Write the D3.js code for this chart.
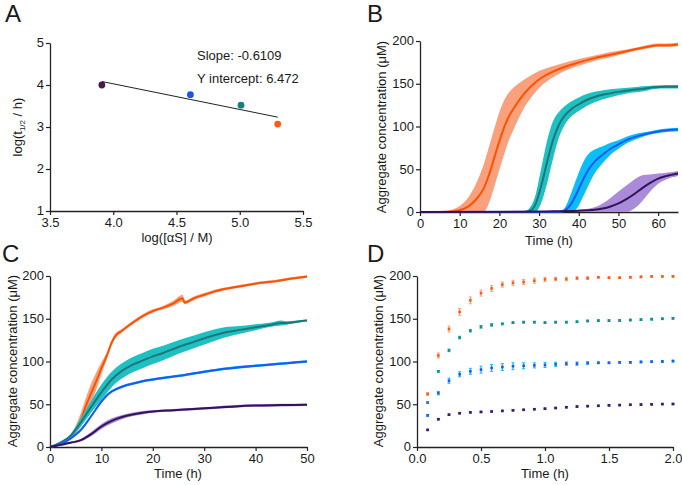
<!DOCTYPE html>
<html><head><meta charset="utf-8">
<script src="https://cdn.jsdelivr.net/npm/d3@7"></script>
<style>
body{margin:0;background:#fff}
svg{display:block}
text{font-family:"Liberation Sans",Arial,Helvetica,sans-serif;fill:#1a1a1a}
</style>
</head><body>
<svg id="chart" width="682" height="485"></svg>
<script>
// ---------- Panel A ----------
const aLogConc = [3.91, 4.61, 5.01, 5.30];
const aLogHalf = [4.00, 3.77, 3.52, 3.07];
const aColors = ["#4a1a4e", "#1657f0", "#177e80", "#ff5a14"];
const fitSlope = -0.6109;
const fitIntercept = 6.472;
const aXTicks = [3.5, 4.0, 4.5, 5.0, 5.5];
const aYTicks = [1, 2, 3, 4, 5];

// ---------- series styling ----------
const lineColors = ["#ff5200", "#1f7679", "#1c58f5", "#35115a"];
const bandColors = ["#f9a07c", "#1ec0c2", "#0cbef8", "#a98bd9"];

// ---------- Panel B (unseeded) ----------
const bOrangeT = [0, 5, 8, 10, 12, 14, 16, 17.5, 19, 20.5, 22, 24, 26, 28, 30, 33, 36, 40, 44, 48, 52, 56, 60, 62, 65];
const bOrangeM = [0, 0, 0.5, 2, 6, 14, 27, 45, 68, 90, 108, 124, 137, 147, 155, 163, 169, 175, 180, 184, 188, 192, 195, 195, 196];
const bOrangeS = [0, 0, 2, 5, 10, 18, 28, 33, 34, 33, 29, 23, 17, 13, 10, 7, 5, 4, 3, 3, 2, 2, 2, 2, 2];
const bTealT = [0, 26, 27.5, 29, 30.5, 32, 33.5, 35, 36.5, 38, 40, 42, 44, 47, 50, 53, 56, 59, 62, 65];
const bTealM = [0, 0, 1, 8, 30, 58, 84, 102, 113, 120, 126, 131, 134.5, 138, 140.5, 142.5, 144, 146, 146.5, 146.5];
const bTealS = [0, 0, 3, 10, 20, 25, 22, 15, 11, 9, 8, 7, 6, 5, 4, 3, 3, 2, 2, 2];
const bBlueT = [0, 35, 36.5, 38, 39.5, 41, 42.5, 44, 46, 48, 50, 52, 55, 58, 61, 65];
const bBlueM = [0, 0, 2, 9, 22, 37, 50, 59, 67, 74, 79, 84, 89, 92.5, 95, 96.5];
const bBlueS = [0, 0, 3, 12, 18, 20, 18, 14, 10, 7, 5, 4, 3, 2, 2, 2];
const bPurpleT = [0, 30, 35, 40, 44, 46, 48, 50, 52, 54, 56, 58, 60, 62, 65];
const bPurpleM = [0, 0.5, 1, 1.5, 2.5, 4, 6.5, 10, 15, 21, 28, 34, 39, 42, 45];
const bPurpleS = [0, 0, 0.5, 1, 3, 6, 10, 14, 16, 17, 15, 10, 6, 4, 3];
const bXTicks = [0, 10, 20, 30, 40, 50, 60];
const yTicks = [0, 50, 100, 150, 200];

// ---------- Panel C (seeded) ----------
const cOrangeT = [0, 2, 4, 5, 6, 7, 8, 9, 10, 11, 12, 12.6, 14, 16, 18, 20, 22, 24, 25.8, 26.2, 28, 30, 32, 35, 38, 41, 44, 47, 50];
const cOrangeM = [0, 4, 12, 20, 32, 48, 63, 77, 92, 106, 122, 129, 136, 145, 153, 159, 163, 168, 174, 169, 174, 178, 182, 186, 189, 192, 194, 197, 199.5];
const cOrangeS = [0, 1, 3, 5, 8, 10, 11, 10, 7, 4, 3, 3, 2, 2, 2, 2, 2, 3, 4, 2, 2, 2, 2, 1.5, 1.5, 1.5, 1.5, 1.5, 1.5];
const cTealT = [0, 2, 4, 6, 8, 10, 12, 14, 16, 18, 20, 22, 25, 28, 31, 34, 37, 40, 43, 45, 46, 48, 50];
const cTealM = [0, 5, 13, 29, 47, 64, 79, 89, 96, 101, 106, 110, 117, 123, 129, 134, 137, 140, 143, 145, 145, 146.5, 148];
const cTealS = [0, 1, 2, 5, 7, 9, 9, 9, 9, 9, 9, 8.5, 8, 7.5, 7, 6, 4.5, 3.5, 2.5, 3, 2, 1.5, 1];
const cBlueT = [0, 2, 4, 6, 8, 10, 11, 12, 13, 14, 16, 18, 20, 23, 26, 30, 34, 38, 42, 46, 50];
const cBlueM = [0, 3, 10, 20, 36, 53, 60, 65, 68, 70.5, 74, 77, 79, 81.5, 84, 88, 91.5, 94, 96, 98, 100];
const cBlueS = [0, 1, 1.5, 1.5, 1.5, 1.5, 1.5, 1.5, 1.5, 1.5, 1.5, 1.5, 1.5, 1.5, 1.5, 1.5, 1.5, 1.5, 1.5, 1.5, 1.5];
const cPurpleT = [0, 2, 4, 6, 8, 10, 12, 14, 16, 18, 20, 24, 28, 32, 36, 40, 45, 50];
const cPurpleM = [0, 2.5, 5, 8, 15, 24, 30.5, 35, 38, 40, 41.5, 43, 44.5, 46, 47.5, 48.5, 49, 49.5];
const cPurpleS = [0, 0.5, 1, 1.5, 2.5, 3, 3, 2.5, 2, 2, 1.5, 1.5, 1.5, 1.5, 1.5, 1.5, 1.5, 1.5];
const cXTicks = [0, 10, 20, 30, 40, 50];

// ---------- Panel D (early times) ----------
const dTime = [0.083, 0.167, 0.25, 0.333, 0.417, 0.5, 0.583, 0.667, 0.75, 0.833, 0.917, 1.0, 1.083, 1.167, 1.25, 1.333, 1.417, 1.5, 1.583, 1.667, 1.75, 1.833, 1.917, 2.0];
const dOrange = [62, 107, 138, 158, 171.5, 180, 185.5, 190, 192, 193, 194.5, 196, 196.5, 196.5, 197.5, 197.5, 198.5, 198, 198, 198.5, 199, 199.5, 199.5, 199.5];
const dOrangeErr = [1.5, 3, 3.5, 4, 4, 3.5, 3.5, 3, 3, 3, 3, 2.5, 2, 2, 1.5, 1.5, 1, 1, 1, 1, 1, 1, 1, 1];
const dTeal = [52, 88.5, 113, 128, 136, 140.5, 142.8, 144, 145.4, 146, 146, 145.4, 146, 146, 146.5, 147.4, 147.8, 147.8, 148, 148.5, 149, 149.5, 150, 150.5];
const dTealErr = [1, 1, 1.5, 1.5, 1.5, 1.5, 1.5, 1, 1, 1, 1, 1, 1, 1, 1, 1, 1, 1, 1, 1, 1, 1, 1, 1];
const dBlue = [37, 63, 77.5, 85, 88.5, 90.5, 92.5, 93.5, 94.5, 95, 95.5, 96, 96.7, 97.5, 97.5, 98.2, 98.5, 98.5, 99, 99, 99.5, 99.8, 100, 100.5];
const dBlueErr = [1, 2, 3, 3, 3.5, 4, 4, 4, 4, 3.5, 3, 3, 2.5, 2, 2, 1.5, 1, 1, 1, 1, 1, 1, 1, 1];
const dPurple = [20, 32.5, 37.8, 39.5, 40.5, 41, 41.5, 42.2, 42.9, 43.5, 44.2, 44.8, 45.6, 46.5, 47.3, 47.8, 48.2, 48.7, 49, 49.4, 49.6, 49.9, 50.2, 50.3];
const dPurpleErr = [0.8, 0.8, 0.8, 0.8, 0.8, 0.8, 0.8, 0.8, 0.8, 0.8, 0.8, 0.8, 0.8, 0.8, 0.8, 0.8, 0.8, 0.8, 0.8, 0.8, 0.8, 0.8, 0.8, 0.8];
const dXTicks = [0, 0.5, 1.0, 1.5, 2.0];
const dErrColors = ["#f9a07c", "#1ec0c2", "#0cbef8", "#7a5aa8"];
const dDotColors = ["#ff5a14", "#168a8c", "#1c58f5", "#3a1a6a"];

const yTitleText = "Aggregate concentration (\u03bcM)";

// ---------- drawing ----------
const svg = d3.select("#chart");
const FS = 13;

function drawAxes(x, y, xTicks, yTicks, xFmt, yFmt) {
  const gx = svg.append("g").attr("transform", `translate(0,${y.range()[0]})`)
    .call(d3.axisBottom(x).tickValues(xTicks).tickFormat(xFmt).tickSize(4).tickSizeOuter(0).tickPadding(2));
  const gy = svg.append("g").attr("transform", `translate(${x.range()[0]},0)`)
    .call(d3.axisLeft(y).tickValues(yTicks).tickFormat(yFmt).tickSize(4).tickSizeOuter(0).tickPadding(2));
  [gx, gy].forEach(g => {
    g.select(".domain").attr("stroke", "#222").attr("stroke-width", 1.3);
    g.selectAll(".tick line").attr("stroke", "#222").attr("stroke-width", 1.2);
    g.selectAll(".tick text").attr("font-size", FS).attr("fill", "#1a1a1a")
      .attr("font-family", '"Liberation Sans",Arial,Helvetica,sans-serif');
  });
  gy.selectAll(".tick text").attr("dy", "0.3em");
  gx.selectAll(".tick text").attr("dy", "0.76em");
}

function panelLetter(txt, x, y) {
  svg.append("text").attr("x", x).attr("y", y).attr("font-size", 24).text(txt);
}

function xTitle(txt, cx, y) {
  svg.append("text").attr("x", cx).attr("y", y).attr("text-anchor", "middle").attr("font-size", FS).text(txt);
}
function yTitle(txt, x, cy) {
  return svg.append("text").attr("transform", `translate(${x},${cy}) rotate(-90)`)
    .attr("text-anchor", "middle").attr("font-size", FS).text(txt);
}

// ===== Panel A =====
{
  const x = d3.scaleLinear().domain([3.5, 5.5]).range([50, 303]);
  const y = d3.scaleLinear().domain([1, 5]).range([211, 43]);
  drawAxes(x, y, aXTicks, aYTicks, d3.format(".1f"), d3.format("d"));
  const x0 = d3.min(aLogConc), x1 = d3.max(aLogConc);
  svg.append("line")
    .attr("x1", x(x0)).attr("y1", y(fitIntercept + fitSlope * x0))
    .attr("x2", x(x1)).attr("y2", y(fitIntercept + fitSlope * x1))
    .attr("stroke", "#222").attr("stroke-width", 1);
  svg.append("g").selectAll("circle").data(aLogConc).join("circle")
    .attr("cx", d => x(d)).attr("cy", (d, i) => y(aLogHalf[i])).attr("r", 3.4)
    .attr("fill", (d, i) => aColors[i]);
  svg.append("text").attr("x", 197).attr("y", 60).attr("font-size", FS).text("Slope: " + fitSlope);
  svg.append("text").attr("x", 197).attr("y", 83).attr("font-size", FS).text("Y intercept: " + fitIntercept);
  panelLetter("A", 5, 22);
  xTitle("log([\u03b1S] / M)", 177, 242);
  const t = yTitle("", 22, 127);
  t.append("tspan").text("log(t");
  t.append("tspan").attr("font-size", 8).attr("dy", 3).text("1/2");
  t.append("tspan").attr("dy", -3).text(" / h)");
}

function drawBands(x, y, series) {
  const area = d3.area().curve(d3.curveMonotoneX)
    .x(d => x(d.t)).y0(d => y(Math.max(0, d.m - d.s))).y1(d => y(d.m + d.s));
  const line = d3.line().curve(d3.curveMonotoneX).x(d => x(d.t)).y(d => y(d.m));
  series.forEach((s, k) => {
    const pts = s.t.map((t, i) => ({t, m: s.m[i], s: s.s[i]}));
    svg.append("path").datum(pts).attr("d", area).attr("fill", bandColors[k]).attr("stroke", "none");
    svg.append("path").datum(pts).attr("d", line).attr("fill", "none")
      .attr("stroke", lineColors[k]).attr("stroke-width", 2);
  });
}

// ===== Panel B =====
{
  const x = d3.scaleLinear().domain([0, 65]).range([420, 678]);
  const y = d3.scaleLinear().domain([0, 200]).range([212, 41]);
  drawAxes(x, y, bXTicks, yTicks, d3.format("d"), d3.format("d"));
  drawBands(x, y, [
    {t: bOrangeT, m: bOrangeM, s: bOrangeS},
    {t: bTealT, m: bTealM, s: bTealS},
    {t: bBlueT, m: bBlueM, s: bBlueS},
    {t: bPurpleT, m: bPurpleM, s: bPurpleS}
  ]);
  panelLetter("B", 367, 22);
  xTitle("Time (h)", 549, 245);
  yTitle(yTitleText, 386, 127);
}

// ===== Panel C =====
{
  const x = d3.scaleLinear().domain([0, 50]).range([50, 307]);
  const y = d3.scaleLinear().domain([0, 200]).range([447, 276]);
  drawAxes(x, y, cXTicks, yTicks, d3.format("d"), d3.format("d"));
  drawBands(x, y, [
    {t: cOrangeT, m: cOrangeM, s: cOrangeS},
    {t: cTealT, m: cTealM, s: cTealS},
    {t: cBlueT, m: cBlueM, s: cBlueS},
    {t: cPurpleT, m: cPurpleM, s: cPurpleS}
  ]);
  panelLetter("C", 2, 262);
  xTitle("Time (h)", 178, 478);
  yTitle(yTitleText, 17, 361);
}

// ===== Panel D =====
{
  const x = d3.scaleLinear().domain([0, 2]).range([417, 673]);
  const y = d3.scaleLinear().domain([0, 200]).range([447, 276]);
  drawAxes(x, y, dXTicks, yTicks, d3.format(".1f"), d3.format("d"));
  const sets = [[dOrange, dOrangeErr], [dTeal, dTealErr], [dBlue, dBlueErr], [dPurple, dPurpleErr]];
  sets.forEach(([vals, errs], k) => {
    const g = svg.append("g");
    dTime.forEach((t, i) => {
      const cx = x(t), y0 = y(vals[i] - errs[i]), y1 = y(vals[i] + errs[i]);
      g.append("line").attr("x1", cx).attr("x2", cx).attr("y1", y0).attr("y2", y1)
        .attr("stroke", dErrColors[k]).attr("stroke-width", 1.2);
      [y0, y1].forEach(yy => g.append("line").attr("x1", cx - 1.5).attr("x2", cx + 1.5)
        .attr("y1", yy).attr("y2", yy).attr("stroke", dErrColors[k]).attr("stroke-width", 1));
      g.append("rect").attr("x", cx - 1.3).attr("y", y(vals[i]) - 1.3).attr("width", 2.6).attr("height", 2.6)
        .attr("fill", dDotColors[k]);
    });
  });
  panelLetter("D", 367, 262);
  xTitle("Time (h)", 545, 478);
  yTitle(yTitleText, 383, 361);
}
</script>
</body></html>
